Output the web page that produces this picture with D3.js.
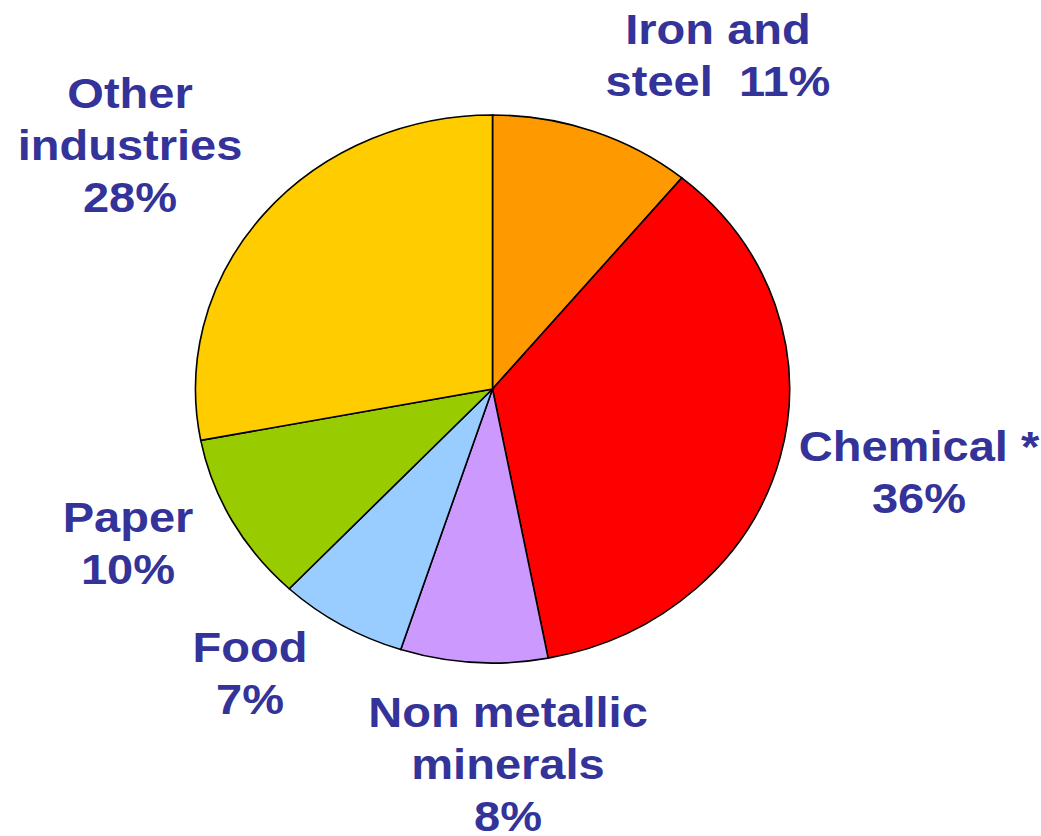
<!DOCTYPE html>
<html>
<head>
<meta charset="utf-8">
<script src="https://cdn.jsdelivr.net/npm/d3@7"></script>
<style>
  body { margin: 0; background: #fff; }
  text { font-family: "Liberation Sans", Arial, sans-serif; font-weight: bold; fill: #333399; white-space: pre; }
</style>
</head>
<body>
<svg id="chart" width="1041" height="836"></svg>
<script>
// data, clockwise from 12 o'clock
const sectors = ['Iron and steel', 'Chemical', 'Non metallic minerals', 'Food', 'Paper', 'Other industries']
const shares = [11, 36, 8, 7, 10, 28]
const labelLines = [
  ['Iron and', 'steel  11%'],
  ['Chemical *', '36%'],
  ['Non metallic', 'minerals', '8%'],
  ['Food', '7%'],
  ['Paper', '10%'],
  ['Other', 'industries', '28%']
]

const colors = ['#FF9900', '#FF0000', '#CC99FF', '#99CCFF', '#99CC00', '#FFCC00']

// layout (the original picture is a bit wider than tall)
const cx = 492.5, cy = 389, r = 274, sx = 1.084
const textSx = 1.12
const lineH = 52
// label anchors: x center, baseline of first line
const labelPos = [[718, 44], [919, 461], [508, 727], [250, 662], [128, 532], [130, 108]]

let svg = d3.select('#chart')

let pie = d3.pie().sort(null).value(d => d)
let arc = d3.arc().innerRadius(0).outerRadius(r)

let g = svg.append('g')
  .attr('transform', `translate(${cx},${cy}) scale(${sx},1)`)

g.selectAll('path')
  .data(pie(shares))
  .enter()
  .append('path')
  .attr('d', arc)
  .attr('fill', (d, i) => colors[i])
  .attr('stroke', '#000')
  .attr('stroke-width', 1.6)
  .attr('vector-effect', 'non-scaling-stroke')

labelLines.forEach((lines, i) => {
  let t = svg.append('text')
    .attr('class', 'label')
    .attr('data-sector', sectors[i])
    .attr('text-anchor', 'middle')
    .attr('font-size', 42)
    .attr('transform', `translate(${labelPos[i][0]},${labelPos[i][1]}) scale(${textSx},1)`)
  lines.forEach((ln, j) => {
    t.append('tspan').attr('x', 0).attr('y', j * lineH).text(ln)
  })
})
</script>
</body>
</html>
